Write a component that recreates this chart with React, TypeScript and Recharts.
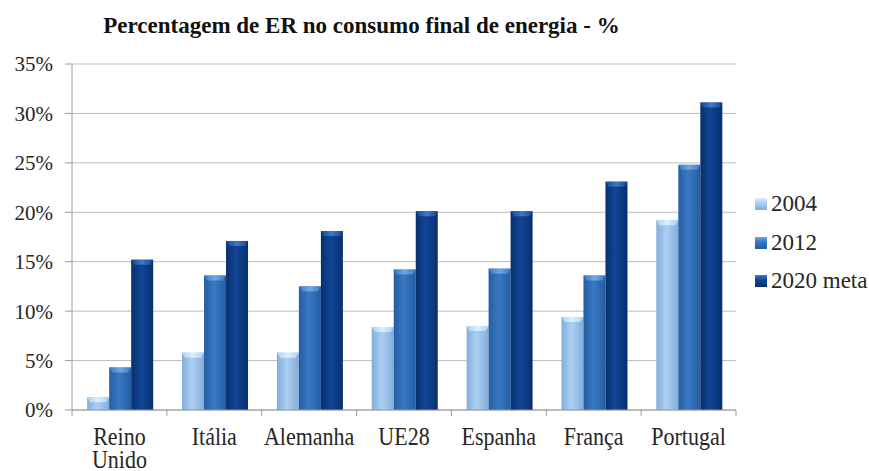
import { BarChart, Bar, XAxis, YAxis, CartesianGrid } from 'recharts';

const categories = ['Reino Unido', 'Itália', 'Alemanha', 'UE28', 'Espanha', 'França', 'Portugal'];
const values2004 = [1.3, 5.8, 5.8, 8.4, 8.5, 9.4, 19.2];
const values2012 = [4.3, 13.6, 12.5, 14.2, 14.3, 13.6, 24.8];
const values2020 = [15.2, 17.1, 18.1, 20.1, 20.1, 23.1, 31.1];
const yTicks = [0, 5, 10, 15, 20, 25, 30, 35];

const SERIES = [
  { key: 's2004', name: '2004', edge: '#82acd9', mid: '#acd0f3', cap: '#dcefff' },
  { key: 's2012', name: '2012', edge: '#245da1', mid: '#3878c3', cap: '#72a8e3' },
  { key: 's2020', name: '2020 meta', edge: '#082f6c', mid: '#114596', cap: '#4079c6' },
];

const data = categories.map((name, i) => ({
  name,
  s2004: values2004[i],
  s2012: values2012[i],
  s2020: values2020[i],
}));

const FONT = '"Liberation Serif", "Times New Roman", serif';
const TEXT = '#262626';

function BevelBar(props: any) {
  const { x, y, width, height, seriesKey } = props;
  const s = SERIES.find(d => d.key === seriesKey)!;
  if (!height || height <= 0) return null;
  const c = Math.min(5, height);
  return (
    <g>
      <rect x={x} y={y} width={width} height={height} fill={`url(#grad-${s.key})`} />
      <polygon
        points={`${x},${y} ${x + width},${y} ${x + width - 3},${y + c} ${x + 3},${y + c}`}
        fill={`url(#cap-${s.key})`}
      />
    </g>
  );
}

// category labels sit between tick marks placed at the band edges
function CategoryTick(props: any) {
  const { x, y, payload, index } = props;
  const half = payload.offset ?? 664 / 14;
  const words = String(payload.value).split(' ');
  const lines = words.length > 1 ? words : [payload.value];
  return (
    <g>
      <line x1={x - half} y1={y - 8} x2={x - half} y2={y - 2} stroke="#9a9a9a" />
      {index === categories.length - 1 && (
        <line x1={x + half} y1={y - 8} x2={x + half} y2={y - 2} stroke="#9a9a9a" />
      )}
      <g transform={`translate(${x},${y + 27}) scale(1,1.15)`}>
        <text x={0} y={0} textAnchor="middle" fontFamily={FONT} fontSize={22} fill={TEXT}>
          {lines.map((l: string, i: number) => (
            <tspan key={l} x={0} dy={i === 0 ? 0 : 20}>{l}</tspan>
          ))}
        </text>
      </g>
    </g>
  );
}

export default function App() {
  return (
    <div style={{ position: 'absolute', left: 0, top: 0, width: 869, height: 471, background: '#fff' }}>
      <div
        style={{
          position: 'absolute',
          left: 0,
          top: 13,
          width: 723,
          textAlign: 'center',
          fontFamily: FONT,
          fontWeight: 'bold',
          fontSize: 23,
          lineHeight: 'normal',
          color: '#111',
          whiteSpace: 'nowrap',
        }}
      >
        Percentagem de ER no consumo final de energia - %
      </div>
      <BarChart
        width={869}
        height={471}
        data={data}
        margin={{ top: 64, right: 133, bottom: 0, left: 0 }}
        barCategoryGap="16%"
        barGap={0}
      >
        <defs>
          {SERIES.map(s => (
            <linearGradient key={s.key} id={`grad-${s.key}`} x1="0" y1="0" x2="1" y2="0">
              <stop offset="0%" stopColor={s.edge} />
              <stop offset="45%" stopColor={s.mid} />
              <stop offset="100%" stopColor={s.edge} />
            </linearGradient>
          ))}
          {SERIES.map(s => (
            <linearGradient key={s.key} id={`cap-${s.key}`} x1="0" y1="0" x2="1" y2="0">
              <stop offset="0%" stopColor={s.mid} />
              <stop offset="50%" stopColor={s.cap} />
              <stop offset="100%" stopColor={s.mid} />
            </linearGradient>
          ))}
        </defs>
        <CartesianGrid vertical={false} stroke="#bdbdbd" />
        <XAxis
          dataKey="name"
          height={61}
          axisLine={{ stroke: '#9a9a9a' }}
          tickLine={false}
          interval={0}
          tick={<CategoryTick />}
        />
        <YAxis
          width={72}
          domain={[0, 35]}
          ticks={yTicks}
          tickFormatter={(v: number) => `${v}%`}
          axisLine={{ stroke: '#9a9a9a' }}
          tickLine={{ stroke: '#9a9a9a' }}
          tickSize={7}
          tickMargin={12}
          tick={{ fontFamily: FONT, fontSize: 21, fill: TEXT }}
        />
        {SERIES.map(s => (
          <Bar
            key={s.key}
            dataKey={s.key}
            name={s.name}
            isAnimationActive={false}
            shape={(p: any) => <BevelBar {...p} seriesKey={s.key} />}
          />
        ))}
      </BarChart>
      <div style={{ position: 'absolute', left: 755, top: 185, fontFamily: FONT, fontSize: 23, color: TEXT }}>
        {SERIES.map(s => (
          <div key={s.key} style={{ display: 'flex', alignItems: 'center', height: 38.5, whiteSpace: 'nowrap' }}>
            <span
              style={{
                display: 'inline-block',
                width: 12,
                height: 12,
                marginRight: 4,
                background: `linear-gradient(to bottom, ${s.cap}, ${s.mid} 40%, ${s.edge})`,
              }}
            />
            {s.name}
          </div>
        ))}
      </div>
    </div>
  );
}
